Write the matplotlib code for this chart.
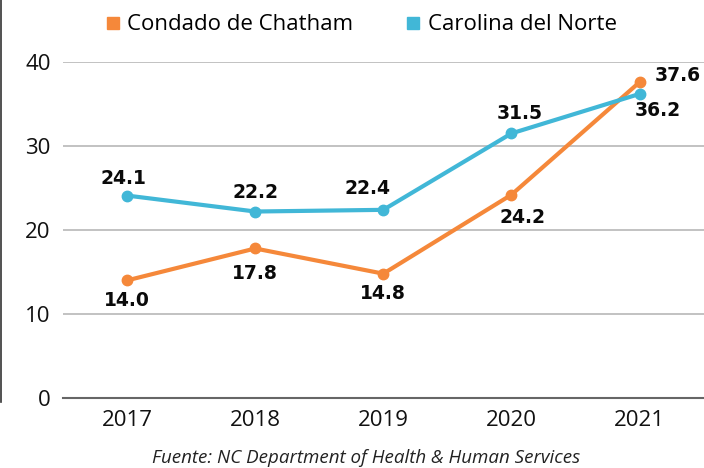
import matplotlib.pyplot as plt
import numpy as np

years = ['2017', '2018', '2019', '2020', '2021']
chatham = [14.0, 17.8, 14.8, 24.2, 37.6]
nc = [24.1, 22.2, 22.4, 31.5, 36.2]

orange = '#F5883A'
blue = '#41B7D7'

# label offsets in pixels (dx, dy)
off_chatham = [(0, -20), (0, -25), (0, -20), (11, -23), (38, 7)]
off_nc = [(-4, 17), (0, 19), (-16, 21), (8, 20), (18, -17)]

fig = plt.figure(figsize=(7.04, 4.68), dpi=100)
ax = fig.add_axes([0.0895, 0.1496, 0.91, 0.7179])
x = np.arange(len(years))

ax.plot(x, chatham, color=orange, lw=3, marker='o', ms=7.5, label='Condado de Chatham', zorder=3)
ax.plot(x, nc, color=blue, lw=3, marker='o', ms=7.5, label='Carolina del Norte', zorder=3)

lab = dict(textcoords='offset points', ha='center', va='center', fontsize=13.5,
           fontweight='bold', family='DejaVu Sans', color='#0a0a0a')
for i, v in enumerate(chatham):
    dx, dy = off_chatham[i]
    ax.annotate(f'{v:.1f}', (i, v), xytext=(dx * 0.72, dy * 0.72), **lab)
for i, v in enumerate(nc):
    dx, dy = off_nc[i]
    ax.annotate(f'{v:.1f}', (i, v), xytext=(dx * 0.72, dy * 0.72), **lab)

ax.set_xlim(-0.5, 4.5)
ax.set_ylim(0, 40)
ax.set_yticks([0, 10, 20, 30, 40])
ax.set_xticks(x)
ax.set_xticklabels(years)
ax.grid(axis='y', color='#BDBDBD', lw=1.3)
ax.set_axisbelow(True)
for s in ['top', 'right', 'left']:
    ax.spines[s].set_visible(False)
ax.spines['bottom'].set_color('#666666')
ax.spines['bottom'].set_linewidth(1.5)
ax.tick_params(length=0, labelsize=16, colors='#111111', pad=9)
for t in ax.get_xticklabels() + ax.get_yticklabels():
    t.set_family('Open Sans')

h = [plt.Line2D([], [], color=orange, marker='s', ls='', ms=8),
     plt.Line2D([], [], color=blue, marker='s', ls='', ms=8)]
fig.legend(h, ['Condado de Chatham', 'Carolina del Norte'], loc='center',
           bbox_to_anchor=(0.51, 0.947), ncol=2, frameon=False,
           prop={'family': 'Open Sans', 'size': 16}, handletextpad=0.15,
           columnspacing=2.2, handlelength=1.0)

fig.text(0.52, 0.021, 'Fuente: NC Department of Health & Human Services',
         ha='center', va='center', fontsize=13.5, style='italic', family='Open Sans', color='#222222')

# thin dark edge at the left border
fig.add_artist(plt.Line2D([0.001, 0.001], [0.14, 1.0], color='#333333', lw=1.2))

fig.savefig('out.png', dpi=100)
